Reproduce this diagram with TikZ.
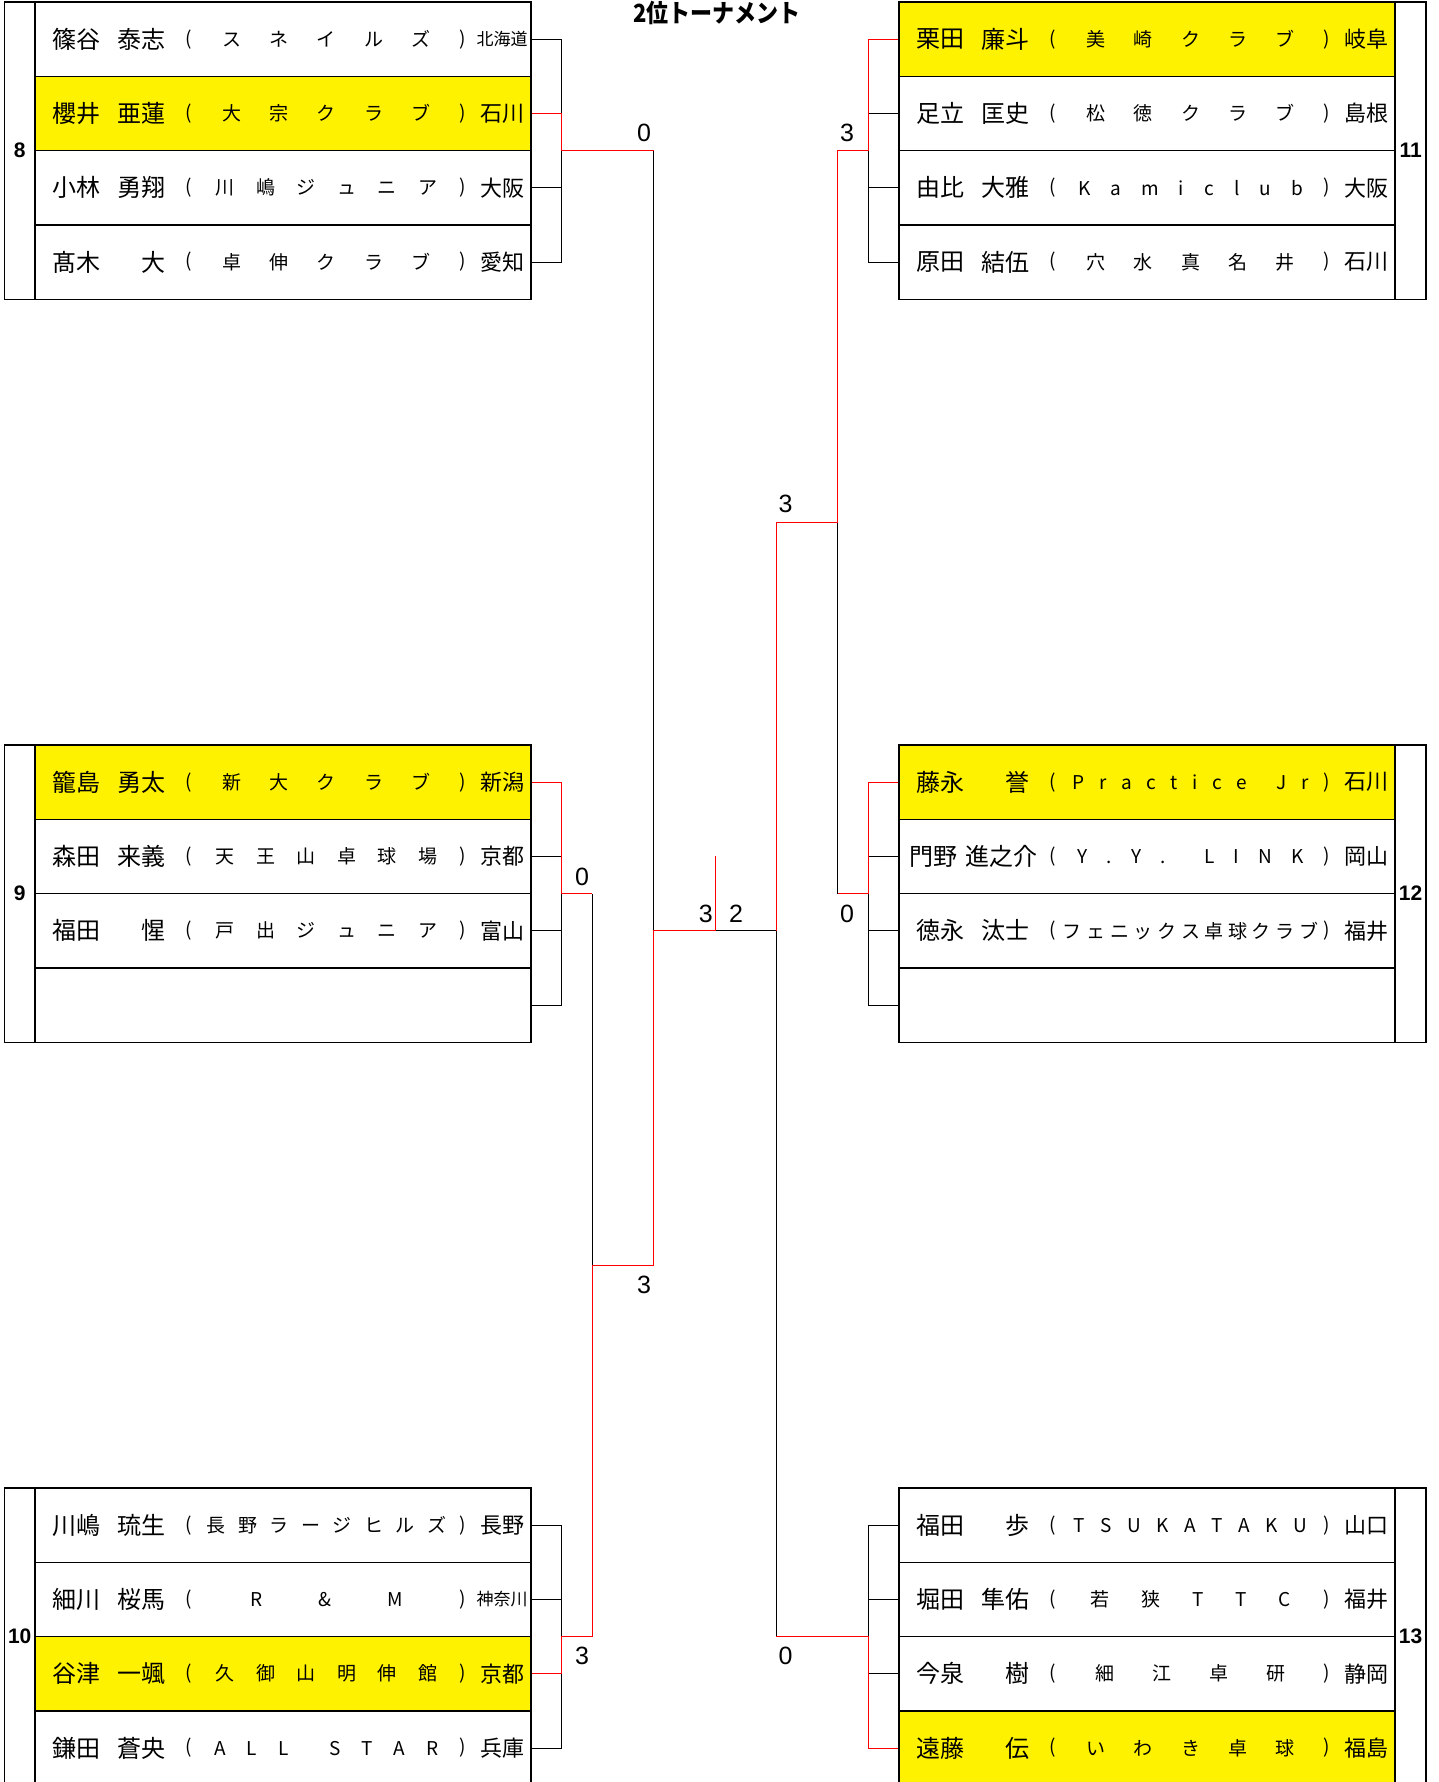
\documentclass[tikz,border=0pt]{standalone}
\usepackage{fontspec}
\usepackage{graphicx}
\setmainfont{Liberation Sans}
\newfontfamily\jp{Noto Sans CJK JP}
\usetikzlibrary{positioning,calc}

\newcommand{\spreadclub}[1]{\hbox to 132.5pt{\hfil\foreach \ch in {#1}{\ch\hfil}}}
\newcommand{\smallpf}[1]{{\fontsize{8.5}{10}\selectfont #1}}
% one row of a block: name, x shift, y, fill, family, given, club, prefecture
\newcommand{\prow}[8]{%
  \node[cell, fill=#4] (#1) at (#2+283,#3) {};
  \node[nm, anchor=west] (#1f) at (#2+52,#3) {#5};
  \node[nm, anchor=east] (#1g) at (#2+166,#3) {#6};
  \node[par] (#1l) at (#2+188.7,#3) {(};
  \node[club] (#1c) at (#2+326.5,#3) {\spreadclub{#7}};
  \node[par] (#1r) at (#2+462.7,#3) {)};
  \node[pf] (#1p) at (#2+502,#3) {#8};
}

\begin{document}
\begin{tikzpicture}[
    x=0.5pt, y=-0.5pt,
    cell/.style={draw, line width=0.7pt, minimum width=248pt, minimum height=37.15pt, inner sep=0pt},
    numcell/.style={draw, line width=0.7pt, minimum width=15.5pt, minimum height=148.6pt, inner sep=0pt, font=\bfseries\fontsize{10.5}{12}\selectfont},
    nm/.style={inner sep=0pt, font=\jp\fontsize{12}{14}\selectfont},
    par/.style={inner sep=0pt, font=\jp\fontsize{9.5}{10}\selectfont},
    club/.style={inner sep=0pt, font=\jp\fontsize{9.5}{10}\selectfont},
    pf/.style={inner sep=0pt, font=\jp\fontsize{11}{12}\selectfont},
    ln/.style={line width=0.5pt},
    win/.style={line width=0.5pt, red},
    score/.style={inner sep=0pt, font=\fontsize{12.5}{14}\selectfont},
    title/.style={inner sep=0pt, font=\jp\bfseries\fontsize{12.5}{14}\selectfont}
]
\useasboundingbox (0,0) rectangle (1439,1782);
\clip (0,0) rectangle (1439,1782);

\node[title] (ttl) at (717,13) {\scalebox{0.88}[1]{2位トーナメント}};

% block 8
\prow{g8r0}{0}{39.15}{white}{篠谷}{泰志}{ス,ネ,イ,ル,ズ}{\smallpf{北海道}}
\prow{g8r1}{0}{113.45}{yellow}{櫻井}{亜蓮}{大,宗,ク,ラ,ブ}{石川}
\prow{g8r2}{0}{187.75}{white}{小林}{勇翔}{川,嶋,ジ,ュ,ニ,ア}{大阪}
\prow{g8r3}{0}{262.05}{white}{髙木}{大}{卓,伸,ク,ラ,ブ}{愛知}
\node[numcell] (n8) at (19.75,150.6) {8};

% block 9
\prow{g9r0}{0}{782.15}{yellow}{籠島}{勇太}{新,大,ク,ラ,ブ}{新潟}
\prow{g9r1}{0}{856.45}{white}{森田}{来義}{天,王,山,卓,球,場}{京都}
\prow{g9r2}{0}{930.75}{white}{福田}{惺}{戸,出,ジ,ュ,ニ,ア}{富山}
\node[cell] (g9r3) at (283,1005.05) {};
\node[numcell] (n9) at (19.75,893.6) {9};

% block 10
\prow{g10r0}{0}{1525.15}{white}{川嶋}{琉生}{長,野,ラ,ー,ジ,ヒ,ル,ズ}{長野}
\prow{g10r1}{0}{1599.45}{white}{細川}{桜馬}{R,\&,M}{\smallpf{神奈川}}
\prow{g10r2}{0}{1673.75}{yellow}{谷津}{一颯}{久,御,山,明,伸,館}{京都}
\prow{g10r3}{0}{1748.05}{white}{鎌田}{蒼央}{A,L,L,{},S,T,A,R}{兵庫}
\node[numcell] (n10) at (19.75,1636.6) {10};

% block 11
\prow{g11r0}{864}{39.15}{yellow}{栗田}{廉斗}{美,崎,ク,ラ,ブ}{岐阜}
\prow{g11r1}{864}{113.45}{white}{足立}{匡史}{松,徳,ク,ラ,ブ}{島根}
\prow{g11r2}{864}{187.75}{white}{由比}{大雅}{K,a,m,i,c,l,u,b}{大阪}
\prow{g11r3}{864}{262.05}{white}{原田}{結伍}{穴,水,真,名,井}{石川}
\node[numcell] (n11) at (1410.65,150.6) {11};

% block 12
\prow{g12r0}{864}{782.15}{yellow}{藤永}{誉}{P,r,a,c,t,i,c,e,{},J,r}{石川}
\prow{g12r1}{864}{856.45}{white}{}{}{Y,.,Y,.,{},L,I,N,K}{岡山}
\node[nm, anchor=west] (kadono) at (909,856.45) {門野\hspace{4pt}進之介};
\prow{g12r2}{864}{930.75}{white}{徳永}{汰士}{フ,ェ,ニ,ッ,ク,ス,卓,球,ク,ラ,ブ}{福井}
\node[cell] (g12r3) at (1147,1005.05) {};
\node[numcell] (n12) at (1410.65,893.6) {12};

% block 13
\prow{g13r0}{864}{1525.15}{white}{福田}{歩}{T,S,U,K,A,T,A,K,U}{山口}
\prow{g13r1}{864}{1599.45}{white}{堀田}{隼佑}{若,狭,T,T,C}{福井}
\prow{g13r2}{864}{1673.75}{white}{今泉}{樹}{細,江,卓,研}{静岡}
\prow{g13r3}{864}{1748.05}{yellow}{遠藤}{伝}{い,わ,き,卓,球}{福島}
\node[numcell] (n13) at (1410.65,1636.6) {13};

% junctions
\coordinate (j8) at (561.5,150.6);
\coordinate (o8) at (653.6,150.6);
\coordinate (j9) at (561.5,893.6);
\coordinate (o9) at (592,893.6);
\coordinate (j10) at (561.5,1636.6);
\coordinate (o10) at (592,1636.6);
\coordinate (ls) at (592,1265.1);
\coordinate (lso) at (653.6,1265.1);
\coordinate (lf) at (653.6,930.75);
\coordinate (fin) at (715,930.75);
\coordinate (ftop) at (715,856.45);
\coordinate (j11) at (868.5,150.6);
\coordinate (o11) at (837.7,150.6);
\coordinate (j12) at (868.5,893.6);
\coordinate (o12) at (837.7,893.6);
\coordinate (j13) at (868.5,1636.6);
\coordinate (o13) at (776.4,1636.6);
\coordinate (rs) at (837.7,522.1);
\coordinate (rso) at (776.4,522.1);
\coordinate (rf) at (776.4,930.75);

% black lines
\foreach \g in {8,9,10} {
  \draw[ln] (g\g r0.east) -| (j\g) |- (g\g r3.east);
  \draw[ln] (g\g r1.east) -- (g\g r1.east -| j\g);
  \draw[ln] (g\g r2.east) -- (g\g r2.east -| j\g);
}
\foreach \g in {11,12,13} {
  \draw[ln] (g\g r0.west) -| (j\g) |- (g\g r3.west);
  \draw[ln] (g\g r1.west) -- (g\g r1.west -| j\g);
  \draw[ln] (g\g r2.west) -- (g\g r2.west -| j\g);
}
\draw[ln] (o8) -- (lf);
\draw[ln] (o9) -- (ls);
\draw[ln] (o12) -- (rs);
\draw[ln] (o13) -- (rf) -- (fin);

% winners
\draw[win] (g8r1.east) -| (j8) -- (o8);
\draw[win] (g9r0.east) -| (j9) -- (o9);
\draw[win] (g10r2.east) -| (j10) -- (o10) -- (ls) -- (lso) -- (lf) -- (fin) -- (ftop);
\draw[win] (g11r0.west) -| (j11) -- (o11) -- (rs) -- (rso) -- (rf);
\draw[win] (g12r0.west) -| (j12) -- (o12);
\draw[win] (g13r3.west) -| (j13) -- (o13);

% scores
\node[score] (s8) at (644,133) {0};
\node[score] (s9) at (582,877) {0};
\node[score] (s10) at (582,1656) {3};
\node[score] (s11) at (847,133) {3};
\node[score] (s12) at (847,914) {0};
\node[score] (s13) at (785.5,1656) {0};
\node[score] (sl) at (644,1284.5) {3};
\node[score] (sr) at (785.5,503.6) {3};
\node[score] (fl) at (705.7,914) {3};
\node[score] (fr) at (736,914) {2};
\end{tikzpicture}
\end{document}
